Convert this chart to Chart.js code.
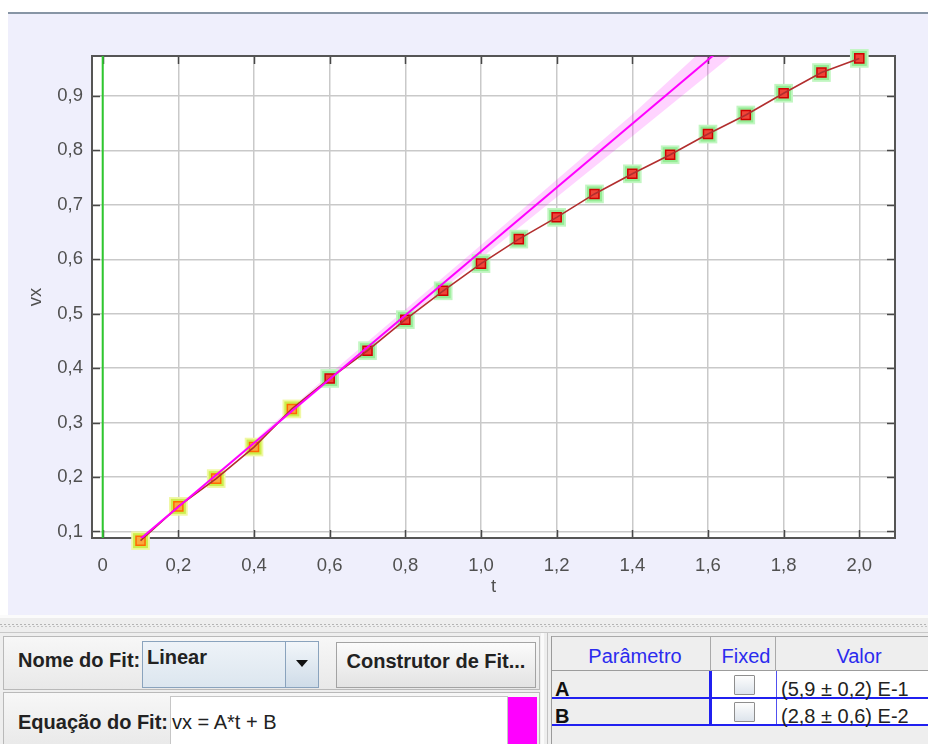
<!DOCTYPE html>
<html><head><meta charset="utf-8">
<script src="https://cdn.jsdelivr.net/npm/chart.js@4.4.1/dist/chart.umd.min.js"></script>
<style>
html,body{margin:0;padding:0;width:928px;height:744px;overflow:hidden;background:#fff;font-family:"Liberation Sans",Arial,sans-serif;}
.a{position:absolute;box-sizing:border-box;}
.lbl{font-weight:bold;font-size:20px;color:#222;white-space:nowrap;line-height:1;}
.reg{font-size:20px;color:#222;white-space:nowrap;line-height:1;}
.hdr{font-size:20px;color:#2b2bee;white-space:nowrap;line-height:1;text-align:center;}
.chk{width:21px;height:20px;border:1px solid #8e8e8e;background:linear-gradient(#fdfdfd,#dde4ec);border-radius:1px;}
</style></head><body>
<div class="a" style="left:8px;top:12px;width:920px;height:2px;background:#8795a5"></div>
<div class="a" style="left:8px;top:14px;width:920px;height:601px;background:#efeffc"></div>
<div class="a" style="left:0;top:13px;width:928px;height:602px"><canvas id="c" width="928" height="602"></canvas></div>

<!-- separator -->
<div class="a" style="left:0;top:615px;width:928px;height:129px;background:#eeeeee"></div>
<div class="a" style="left:0;top:615px;width:928px;height:3px;background:#fbfbfb"></div>
<div class="a" style="left:0;top:624px;width:928px;height:1px;background:repeating-linear-gradient(90deg,#b4b4b4 0 2px,transparent 2px 4px)"></div>
<div class="a" style="left:0;top:626px;width:928px;height:1px;background:repeating-linear-gradient(90deg,transparent 0 1px,#c4c4c4 1px 3px,transparent 3px 4px)"></div>
<div class="a" style="left:0;top:632px;width:928px;height:1px;background:#c8c8c8"></div>

<!-- left panel -->
<div class="a" style="left:3px;top:636px;width:537px;height:54px;border:1px solid #b9b9b9;background:linear-gradient(#f7f7f7,#e9e9e9)"></div>
<div class="a" style="left:3px;top:692px;width:537px;height:56px;border:1px solid #b9b9b9;background:linear-gradient(#f7f7f7,#e9e9e9)"></div>
<div class="a lbl" style="left:18px;top:650px">Nome do Fit:</div>
<div class="a" style="left:142px;top:641px;width:177px;height:47px;border:1px solid #8aa3bd;background:linear-gradient(#eef3f8,#dce6ef)"></div>
<div class="a lbl" style="left:147px;top:647px">Linear</div>
<div class="a" style="left:285px;top:641px;width:34px;height:47px;border:1px solid #8aa3bd;background:linear-gradient(#f2f6fa,#cfdce8)"></div>
<div class="a" style="left:296px;top:660px;width:0;height:0;border-left:6px solid transparent;border-right:6px solid transparent;border-top:7px solid #111"></div>
<div class="a" style="left:336px;top:642px;width:200px;height:46px;border:1px solid #a3a3a3;background:linear-gradient(#fbfbfb,#e3e3e3)"></div>
<div class="a lbl" style="left:336px;top:651px;width:200px;text-align:center">Construtor de Fit...</div>
<div class="a lbl" style="left:18px;top:712px">Equação do Fit:</div>
<div class="a" style="left:170px;top:696px;width:338px;height:52px;background:#fff;border:1px solid #c6c6c6"></div>
<div class="a reg" style="left:172px;top:712px">vx = A*t + B</div>
<div class="a" style="left:508px;top:697px;width:29px;height:47px;background:#ff00ff"></div>

<!-- right table -->
<div class="a" style="left:541px;top:633px;width:3px;height:111px;background:#fafafa"></div>
<div class="a" style="left:547px;top:633px;width:1px;height:111px;background:#c2c2c2"></div>
<div class="a" style="left:551px;top:636px;width:1px;height:108px;background:#9a9a9a"></div>
<div class="a" style="left:552px;top:636px;width:376px;height:35px;background:#eeeeee;border-top:1px solid #a9a9a9;border-bottom:1px solid #9c9c9c"></div>
<div class="a" style="left:710px;top:636px;width:1px;height:35px;background:#a9a9a9"></div>
<div class="a" style="left:775px;top:636px;width:1px;height:35px;background:#a9a9a9"></div>
<div class="a hdr" style="left:556px;top:646px;width:158px">Parâmetro</div>
<div class="a hdr" style="left:711px;top:646px;width:70px">Fixed</div>
<div class="a hdr" style="left:780px;top:646px;width:158px">Valor</div>
<div class="a" style="left:710px;top:671px;width:218px;height:54px;background:#fff"></div>
<div class="a" style="left:709px;top:671px;width:3px;height:55px;background:#2020f0"></div>
<div class="a" style="left:776px;top:671px;width:1px;height:55px;background:#5050f0"></div>
<div class="a" style="left:552px;top:697px;width:376px;height:2px;background:#2020f0"></div>
<div class="a" style="left:552px;top:724px;width:376px;height:2px;background:#2020f0"></div>
<div class="a lbl" style="left:555px;top:679px;color:#111">A</div>
<div class="a lbl" style="left:555px;top:706px;color:#111">B</div>
<div class="a chk" style="left:734px;top:675px"></div>
<div class="a chk" style="left:734px;top:702px"></div>
<div class="a reg" style="left:781px;top:679px">(5,9 ± 0,2) E-1</div>
<div class="a reg" style="left:781px;top:706px">(2,8 ± 0,6) E-2</div>

<script>
// ---- data ----
const tValues  = [0.1,0.2,0.3,0.4,0.5,0.6,0.7,0.8,0.9,1.0,1.1,1.2,1.3,1.4,1.5,1.6,1.7,1.8,1.9,2.0];
const vxValues = [0.083,0.146,0.197,0.255,0.325,0.381,0.432,0.489,0.542,0.592,0.637,0.677,0.720,0.757,0.792,0.830,0.865,0.905,0.943,0.969];
const fittedFlags = [1,1,1,1,1,0,0,0,0,0,0,0,0,0,0,0,0,0,0,0];
const fitT  = [0.1, 1.62];
const fitVx = [0.0865, 0.978];
const bandT     = [0.1, 0.3, 0.6, 1.0, 1.4, 1.8];
const bandUpper = [0.089, 0.2055, 0.389, 0.626, 0.866, 1.122];
const bandLower = [0.084, 0.2015, 0.377, 0.602, 0.826, 1.052];
const frameT = [0, 0];
const xTicks = [0,0.2,0.4,0.6,0.8,1.0,1.2,1.4,1.6,1.8,2.0];
const xTickLabels = ['0','0,2','0,4','0,6','0,8','1,0','1,2','1,4','1,6','1,8','2,0'];
const yTicks = [0.1,0.2,0.3,0.4,0.5,0.6,0.7,0.8,0.9];
const yTickLabels = ['0,1','0,2','0,3','0,4','0,5','0,6','0,7','0,8','0,9'];
const xRange = [-0.0283, 2.0944];
const yRange = [0.0879, 0.9734];

const pts = (xs, ys) => xs.map((x,i)=>({x:x, y:ys[i]}));
const FONT = '"Liberation Sans", Arial, sans-serif';

const framePlugin = {
  id:'frame',
  beforeDraw(chart){
    const {ctx, chartArea:a} = chart;
    ctx.save(); ctx.fillStyle='#ffffff';
    ctx.fillRect(a.left, a.top, a.right-a.left, a.bottom-a.top);
    ctx.restore();
  },
  beforeDatasetsDraw(chart){
    const {ctx, chartArea:a, scales} = chart;
    ctx.save();
    ctx.strokeStyle='#474747'; ctx.lineWidth=1.5;
    const L=8;
    ctx.beginPath();
    xTicks.forEach(v=>{ const px=Math.round(scales.x.getPixelForValue(v))+0.5;
      ctx.moveTo(px,a.top); ctx.lineTo(px,a.top+L);
      ctx.moveTo(px,a.bottom); ctx.lineTo(px,a.bottom-L); });
    yTicks.forEach(v=>{ const py=Math.round(scales.y.getPixelForValue(v))+0.5;
      ctx.moveTo(a.left,py); ctx.lineTo(a.left+L,py);
      ctx.moveTo(a.right,py); ctx.lineTo(a.right-L,py); });
    ctx.stroke();
    ctx.strokeStyle='#555555'; ctx.lineWidth=2;
    ctx.strokeRect(a.left, a.top, a.right-a.left, a.bottom-a.top);
    ctx.restore();
  }
};

const data = pts(tValues, vxValues);
new Chart(document.getElementById('c'), {
  type:'line',
  data:{ datasets:[
    { data:pts(fitT, fitVx), borderColor:'#ff00ff', borderWidth:2, pointRadius:0, order:0, clip:0 },
    { data:data, borderColor:'#b22e2e', borderWidth:1.6, pointRadius:0, order:1, clip:false },
    { data:data, showLine:false, pointStyle:'rect', pointRadius:6.4, pointBorderWidth:1.5,
      pointBackgroundColor:fittedFlags.map(f=>f?'rgba(255,160,60,0.9)':'rgba(255,40,40,0.85)'),
      pointBorderColor:fittedFlags.map(f=>f?'#ff6a00':'#d00000'), order:2, clip:false },
    { data:data, showLine:false, pointStyle:'rect', pointRadius:10.6, pointBorderWidth:0,
      pointBackgroundColor:fittedFlags.map(f=>f?'#cdee4c':'#94ec94'), order:3, clip:false },
    { data:data, showLine:false, pointStyle:'rect', pointRadius:13.2, pointBorderWidth:0,
      pointBackgroundColor:fittedFlags.map(f=>f?'#f0f8a4':'#c2f6c2'), order:4, clip:false },
    { data:pts(bandT, bandUpper), borderWidth:0, pointRadius:0, fill:'+1', backgroundColor:'rgba(255,0,255,0.17)', order:5, clip:0 },
    { data:pts(bandT, bandLower), borderWidth:0, pointRadius:0, fill:false, order:6, clip:0 },
    { data:pts(frameT, yRange), borderColor:'#2ec82e', borderWidth:2, pointRadius:0, order:7, clip:0 }
  ]},
  options:{
    responsive:false, animation:false, events:[],
    layout:{ padding:{left:0, right:33, top:43, bottom:0} },
    plugins:{ legend:{display:false}, tooltip:{enabled:false} },
    scales:{
      x:{ type:'linear', min:xRange[0], max:xRange[1],
        afterBuildTicks:s=>{ s.ticks = xTicks.map(v=>({value:v})); },
        afterFit:s=>{ s.height = 77; },
        grid:{ color:'#c9c9c9', lineWidth:1.5, drawTicks:false },
        border:{ display:false },
        ticks:{ padding:17, color:'#505050', autoSkip:false, maxRotation:0,
          font:{ size:18.5, family:FONT }, callback:(v,i)=>xTickLabels[i] },
        title:{ display:true, text:'t', color:'#505050', font:{ size:18.5, family:FONT }, padding:{top:0,bottom:17} }
      },
      y:{ type:'linear', min:yRange[0], max:yRange[1],
        afterBuildTicks:s=>{ s.ticks = yTicks.map(v=>({value:v})); },
        afterFit:s=>{ s.width = 92; },
        grid:{ color:'#c9c9c9', lineWidth:1.5, drawTicks:false },
        border:{ display:false },
        ticks:{ padding:9, color:'#505050', autoSkip:false,
          font:{ size:18.5, family:FONT }, callback:(v,i)=>yTickLabels[i] },
        title:{ display:true, text:'vx', color:'#505050', font:{ size:18.5, family:FONT }, padding:{top:25,bottom:0} }
      }
    }
  },
  plugins:[framePlugin]
});
</script>
</body></html>
